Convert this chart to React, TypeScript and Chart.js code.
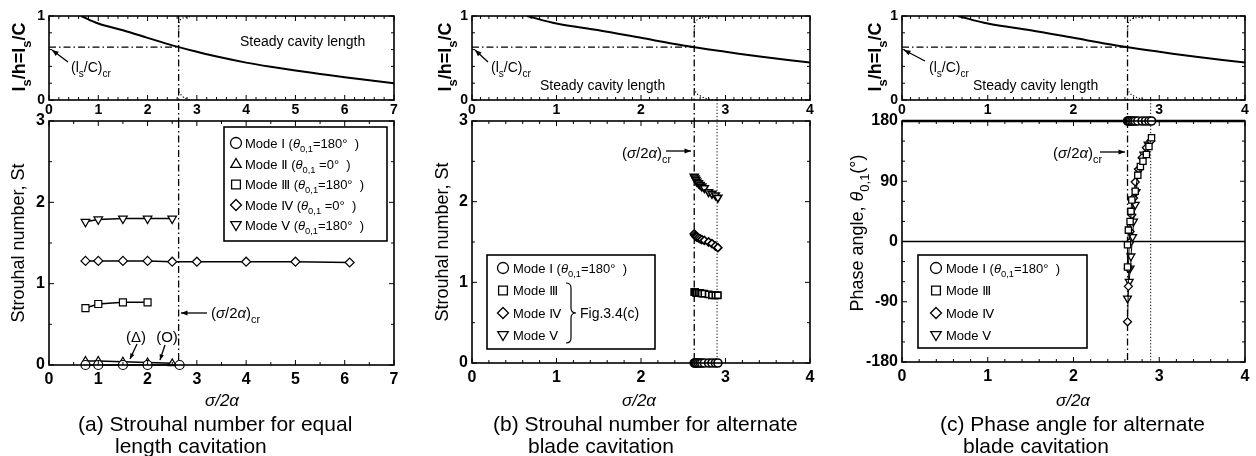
import React, { useEffect, useRef } from "react";
import { Chart, registerables } from "chart.js";

Chart.register(...registerables);

// ---------------- data ----------------
const CRIT_SIGMA = 2.63; // (sigma/2alpha)cr
const CRIT_LS = 0.63; // (ls/C)cr
const ALT_LIMIT = 2.9; // end of alternate blade cavitation region

// steady cavity length (top plots)
const steadySigma = [0.65, 1, 1.5, 2, 2.5, 3, 3.5, 4, 4.5, 5, 5.5, 6, 6.5, 7];
const steadyLs = [1.0, 0.91, 0.83, 0.74, 0.65, 0.575, 0.505, 0.445, 0.395, 0.35, 0.31, 0.27, 0.235, 0.2];
const upperSigma = [2.63, 2.635, 2.65, 2.68, 2.74, 2.82, 2.9];
const upperLs = [0.8, 0.9, 0.94, 0.965, 0.98, 0.99, 0.995];
const lowerSigma = [2.63, 2.65, 2.7, 2.76, 2.83, 2.9];
const lowerLs = [0.14, 0.09, 0.05, 0.02, 0.005, 0];

// (a) equal length cavitation
const aSigmaI = [0.74, 1.0, 1.5, 2.0, 2.65];
const aStI = [0, 0, 0, 0, 0];
const aSigmaII = [0.74, 1.0, 1.5, 2.0, 2.5];
const aStII = [0.05, 0.05, 0.04, 0.03, 0.02];
const aSigmaIII = [0.74, 1.0, 1.5, 2.0];
const aStIII = [0.7, 0.75, 0.77, 0.77];
const aSigmaIV = [0.74, 1.0, 1.5, 2.0, 2.5, 3.0, 4.0, 5.0, 6.1];
const aStIV = [1.28, 1.28, 1.28, 1.28, 1.27, 1.27, 1.27, 1.27, 1.26];
const aSigmaV = [0.74, 1.0, 1.5, 2.0, 2.5];
const aStV = [1.76, 1.79, 1.8, 1.8, 1.8];

// (b) alternate blade cavitation, Strouhal number
const bSigma = [2.63, 2.64, 2.65, 2.66, 2.68, 2.7, 2.72, 2.75, 2.8, 2.84, 2.88, 2.91];
const bStI = [0, 0, 0, 0, 0, 0, 0, 0, 0, 0, 0, 0];
const bStIII = [0.88, 0.88, 0.87, 0.87, 0.87, 0.87, 0.86, 0.86, 0.85, 0.84, 0.84, 0.84];
const bStIV = [1.6, 1.58, 1.57, 1.56, 1.55, 1.54, 1.53, 1.52, 1.5, 1.48, 1.45, 1.43];
const bStV = [2.31, 2.29, 2.27, 2.25, 2.23, 2.21, 2.19, 2.17, 2.12, 2.1, 2.08, 2.05];

// (c) alternate blade cavitation, phase angle
const cSigmaI = [2.63, 2.64, 2.65, 2.66, 2.68, 2.7, 2.72, 2.75, 2.8, 2.84, 2.88, 2.91];
const cPhaseI = [180, 180, 180, 180, 180, 180, 180, 180, 180, 180, 180, 180];
const cSigmaIII = [2.63, 2.63, 2.64, 2.66, 2.67, 2.68, 2.72, 2.75, 2.78, 2.81, 2.85, 2.88, 2.91];
const cPhaseIII = [-38, -5, 17, 30, 45, 62, 75, 99, 112, 120, 130, 142, 155];
const cSigmaIV = [2.63, 2.64, 2.64, 2.65, 2.66, 2.68, 2.7, 2.72, 2.76, 2.8, 2.85, 2.9];
const cPhaseIV = [-120, -67, -40, -2, 15, 40, 65, 89, 108, 125, 140, 150];
const cSigmaV = [2.63, 2.65, 2.66, 2.67, 2.69, 2.7, 2.72, 2.73, 2.76, 2.82, 2.87];
const cPhaseV = [-85, -60, -40, -22, 7, 30, 55, 74, 105, 130, 145];

// ticks
const xTicksA = [0, 1, 2, 3, 4, 5, 6, 7];
const xTicksBC = [0, 1, 2, 3, 4];
const lsTicks = [0, 1];
const stTicks = [0, 1, 2, 3];
const phaseTicks = [-180, -90, 0, 90, 180];

// texts
const captionA = ["(a) Strouhal number for equal", "length cavitation"];
const captionB = ["(b) Strouhal number for alternate", "blade cavitation"];
const captionC = ["(c) Phase angle for alternate", "blade cavitation"];
const modeNames = ["Mode Ⅰ", "Mode Ⅱ", "Mode Ⅲ", "Mode Ⅳ", "Mode Ⅴ"];
const modeAngles = ["=180°", " =0°", "=180°", " =0°", "=180°"];

// ---------------- helpers ----------------
const W = 1256;
const H = 456;
const AX_W = 40;
const AX_H = 30;
const FAMILY = '"Liberation Sans", Arial, "DejaVu Sans", "Noto Sans CJK JP", sans-serif';
const DASHDOT = [7, 3, 1.5, 3];
const DOTTED = [1.2, 2];

function font(size: number, italic = false, bold = false, fam = FAMILY) {
  return `${italic ? "italic " : ""}${bold ? "bold " : ""}${size}px ${fam}`;
}

type Run = { t: string; s?: "sub" | "sup"; i?: boolean; f?: string };

function drawRuns(
  ctx: CanvasRenderingContext2D,
  runs: Run[],
  x: number,
  y: number,
  size: number,
  align: "left" | "center" | "right" = "left",
  rotate = false,
  bold = false
) {
  ctx.save();
  ctx.translate(x, y);
  if (rotate) ctx.rotate(-Math.PI / 2);
  ctx.textBaseline = "alphabetic";
  ctx.textAlign = "left";
  ctx.fillStyle = "#000";
  let total = 0;
  for (const r of runs) {
    ctx.font = font(r.s ? size * 0.72 : size, r.i, bold, r.f || FAMILY);
    total += ctx.measureText(r.t).width;
  }
  let cx = align === "center" ? -total / 2 : align === "right" ? -total : 0;
  for (const r of runs) {
    const sz = r.s ? size * 0.72 : size;
    ctx.font = font(sz, r.i, bold, r.f || FAMILY);
    const dy = r.s === "sub" ? size * 0.32 : r.s === "sup" ? -size * 0.4 : 0;
    ctx.fillText(r.t, cx, dy + size * 0.36);
    cx += ctx.measureText(r.t).width;
  }
  ctx.restore();
}

function seg(ctx: CanvasRenderingContext2D, x1: number, y1: number, x2: number, y2: number, w: number, dash: number[] = []) {
  ctx.save();
  ctx.strokeStyle = "#000";
  ctx.lineWidth = w;
  ctx.setLineDash(dash);
  ctx.beginPath();
  ctx.moveTo(x1, y1);
  ctx.lineTo(x2, y2);
  ctx.stroke();
  ctx.restore();
}

function arrow(ctx: CanvasRenderingContext2D, x1: number, y1: number, x2: number, y2: number, head = 6) {
  seg(ctx, x1, y1, x2, y2, 1.3);
  const a = Math.atan2(y2 - y1, x2 - x1);
  ctx.save();
  ctx.fillStyle = "#000";
  ctx.beginPath();
  ctx.moveTo(x2, y2);
  ctx.lineTo(x2 - head * Math.cos(a - 0.38), y2 - head * Math.sin(a - 0.38));
  ctx.lineTo(x2 - head * Math.cos(a + 0.38), y2 - head * Math.sin(a + 0.38));
  ctx.closePath();
  ctx.fill();
  ctx.restore();
}

type Kind = "circle" | "triUp" | "triDown" | "square" | "diamond";

function marker(ctx: CanvasRenderingContext2D, kind: Kind, x: number, y: number, r: number) {
  ctx.save();
  ctx.lineWidth = 1.3;
  ctx.strokeStyle = "#000";
  ctx.fillStyle = "#fff";
  ctx.setLineDash([]);
  ctx.beginPath();
  if (kind === "circle") ctx.arc(x, y, r, 0, Math.PI * 2);
  else if (kind === "square") ctx.rect(x - r * 0.8, y - r * 0.8, r * 1.6, r * 1.6);
  else if (kind === "diamond") {
    ctx.moveTo(x, y - r);
    ctx.lineTo(x + r, y);
    ctx.lineTo(x, y + r);
    ctx.lineTo(x - r, y);
    ctx.closePath();
  } else if (kind === "triUp") {
    ctx.moveTo(x, y - r);
    ctx.lineTo(x + r * 0.95, y + r * 0.6);
    ctx.lineTo(x - r * 0.95, y + r * 0.6);
    ctx.closePath();
  } else {
    ctx.moveTo(x, y + r);
    ctx.lineTo(x + r * 0.95, y - r * 0.6);
    ctx.lineTo(x - r * 0.95, y - r * 0.6);
    ctx.closePath();
  }
  ctx.fill();
  ctx.stroke();
  ctx.restore();
}

function modeRuns(idx: number, withAngle: boolean): Run[] {
  if (!withAngle) return [{ t: modeNames[idx] }];
  return [{ t: modeNames[idx] + " (" }, { t: "θ", i: true }, { t: "0,1", s: "sub" }, { t: modeAngles[idx] }, { t: "  )" }];
}

function legendBox(ctx: CanvasRenderingContext2D, x1: number, y1: number, x2: number, y2: number) {
  ctx.save();
  ctx.fillStyle = "#fff";
  ctx.fillRect(x1, y1, x2 - x1, y2 - y1);
  ctx.strokeStyle = "#000";
  ctx.lineWidth = 1.6;
  ctx.setLineDash([]);
  ctx.strokeRect(x1, y1, x2 - x1, y2 - y1);
  ctx.restore();
}

const pts = (xs: number[], ys: number[]) => xs.map((x, i) => ({ x, y: ys[i] }));

function markerSet(xs: number[], ys: number[], kind: Kind, r: number, line: boolean, lw: number, bw = 1.2) {
  const style = kind === "circle" ? "circle" : kind === "square" ? "rect" : kind === "diamond" ? "rectRot" : "triangle";
  return {
    data: pts(xs, ys),
    pointStyle: style,
    pointRotation: kind === "triDown" ? 180 : 0,
    pointRadius: kind === "square" ? r * 1.1 : r,
    pointBackgroundColor: "#fff",
    pointBorderColor: "#000",
    pointBorderWidth: bw,
    showLine: line,
    borderColor: "#000",
    borderWidth: lw,
    clip: false,
  };
}

function curveSet(xs: number[], ys: number[], lw: number, dash: number[] = [], smooth = true) {
  return {
    data: pts(xs, ys),
    showLine: true,
    pointRadius: 0,
    borderColor: "#000",
    borderWidth: lw,
    borderDash: dash,
    cubicInterpolationMode: smooth ? "monotone" : "default",
  };
}

type Panel = {
  box: { L: number; R: number; T: number; B: number };
  x: [number, number];
  xTicks: number[];
  xMinor: number;
  y: [number, number];
  yTicks: number[];
  yMinor: number;
  yMajor: number;
  tickSize: number;
  xPad: number;
  datasets: any[];
  under?: (c: any) => void;
  over?: (c: any) => void;
};

function frameAndTicks(c: any, p: Panel) {
  const ctx: CanvasRenderingContext2D = c.ctx;
  const a = c.chartArea;
  const xs = c.scales.x;
  const ys = c.scales.y;
  ctx.save();
  const nx = Math.round((p.x[1] - p.x[0]) / p.xMinor);
  for (let k = 0; k <= nx; k++) {
    const v = p.x[0] + k * p.xMinor;
    const major = Math.abs(v - Math.round(v)) < 1e-6;
    const px = xs.getPixelForValue(v);
    seg(ctx, px, a.bottom, px, a.bottom - (major ? 5 : 3), 1);
    seg(ctx, px, a.top, px, a.top + (major ? 5 : 3), 1);
  }
  const ny = Math.round((p.y[1] - p.y[0]) / p.yMinor);
  for (let k = 0; k <= ny; k++) {
    const v = p.y[0] + k * p.yMinor;
    const major = Math.abs(v / p.yMajor - Math.round(v / p.yMajor)) < 1e-6;
    const py = ys.getPixelForValue(v);
    seg(ctx, a.left, py, a.left + (major ? 5 : 3), py, 1);
    seg(ctx, a.right, py, a.right - (major ? 5 : 3), py, 1);
  }
  ctx.strokeStyle = "#000";
  ctx.lineWidth = 1.6;
  ctx.setLineDash([]);
  ctx.strokeRect(a.left, a.top, a.right - a.left, a.bottom - a.top);
  ctx.restore();
}

function buildConfig(p: Panel) {
  const { L, R, T, B } = p.box;
  return {
    type: "scatter",
    data: { datasets: p.datasets },
    options: {
      animation: false,
      responsive: false,
      events: [],
      layout: { padding: { left: L - AX_W, right: W - R, top: T, bottom: H - B - AX_H } },
      plugins: { legend: { display: false }, tooltip: { enabled: false } },
      scales: {
        x: {
          type: "linear",
          position: "bottom",
          min: p.x[0],
          max: p.x[1],
          afterBuildTicks: (s: any) => {
            s.ticks = p.xTicks.map((v) => ({ value: v }));
          },
          afterFit: (s: any) => {
            s.height = AX_H;
          },
          grid: { display: false, drawTicks: false },
          border: { display: false },
          ticks: {
            color: "#000",
            font: { family: FAMILY, size: p.tickSize, weight: "bold" },
            padding: p.xPad,
            maxRotation: 0,
            minRotation: 0,
            autoSkip: false,
            callback: (v: any) => String(v),
          },
        },
        y: {
          type: "linear",
          position: "left",
          min: p.y[0],
          max: p.y[1],
          afterBuildTicks: (s: any) => {
            s.ticks = p.yTicks.map((v) => ({ value: v }));
          },
          afterFit: (s: any) => {
            s.width = AX_W;
          },
          grid: { display: false, drawTicks: false },
          border: { display: false },
          ticks: {
            color: "#000",
            font: { family: FAMILY, size: p.tickSize, weight: "bold" },
            padding: 4,
            autoSkip: false,
            callback: (v: any) => String(v),
          },
        },
      },
    },
    plugins: [
      {
        id: "deco",
        beforeDatasetsDraw: (c: any) => {
          if (p.under) p.under(c);
        },
        afterDraw: (c: any) => {
          frameAndTicks(c, p);
          if (p.over) p.over(c);
        },
      },
    ],
  };
}

const BOTTOM_TOP = 121;

function topPanel(L: number, R: number, xMax: number, xTicks: number[], xMinor: number, labelX: number, steadyAt: [number, number], lscr: { tx: number; ax: number; ay: number; hx: number; hy: number }): Panel {
  return {
    box: { L, R, T: 16, B: 100 },
    x: [0, xMax],
    xTicks,
    xMinor,
    y: [0, 1],
    yTicks: lsTicks,
    yMinor: 0.2,
    yMajor: 1,
    tickSize: 14,
    xPad: 2,
    datasets: [
      curveSet(steadySigma, steadyLs, 2),
      curveSet(upperSigma, upperLs, 1.2, DOTTED),
      curveSet(lowerSigma, lowerLs, 1.2, DOTTED),
    ],
    under: (c: any) => {
      const ctx = c.ctx;
      const xs = c.scales.x;
      const ys = c.scales.y;
      const px = xs.getPixelForValue(CRIT_SIGMA);
      const py = ys.getPixelForValue(CRIT_LS);
      seg(ctx, xs.getPixelForValue(0), py, px, py, 1.3, DASHDOT);
      seg(ctx, px, c.chartArea.top, px, BOTTOM_TOP, 1.3, DASHDOT);
    },
    over: (c: any) => {
      const ctx = c.ctx;
      drawRuns(ctx, [{ t: "Steady cavity length" }], steadyAt[0], steadyAt[1], 14);
      drawRuns(ctx, [{ t: "(l" }, { t: "s", s: "sub" }, { t: "/C)" }, { t: "cr", s: "sub" }], lscr.tx, 67, 14);
      arrow(ctx, lscr.ax, lscr.ay, lscr.hx, lscr.hy, 7);
      drawRuns(ctx, [{ t: "l" }, { t: "s", s: "sub" }, { t: "/h=l" }, { t: "s", s: "sub" }, { t: "/C" }], labelX, 57, 18, "center", true, true);
    },
  };
}

function sigmaCrLabel(ctx: CanvasRenderingContext2D, x: number, y: number) {
  drawRuns(ctx, [{ t: "(" }, { t: "σ", i: true }, { t: "/2" }, { t: "α", i: true }, { t: ")" }, { t: "cr", s: "sub" }], x, y, 15);
}

function xTitle(ctx: CanvasRenderingContext2D, x: number) {
  drawRuns(ctx, [{ t: "σ", i: true }, { t: "/2", i: true }, { t: "α", i: true }], x, 400, 17, "center");
}

function caption(ctx: CanvasRenderingContext2D, lines: string[], x1: number, x2: number) {
  drawRuns(ctx, [{ t: lines[0] }], x1, 423, 21);
  drawRuns(ctx, [{ t: lines[1] }], x2, 445, 21);
}

// ---------------- panels ----------------
const panelATop = topPanel(49, 394, 7, xTicksA, 0.2, 19, [240, 41], { tx: 71, ax: 68, ay: 62, hx: 52, hy: 50 });

const panelABottom: Panel = {
  box: { L: 49, R: 394, T: BOTTOM_TOP, B: 365 },
  x: [0, 7],
  xTicks: xTicksA,
  xMinor: 0.5,
  y: [0, 3],
  yTicks: stTicks,
  yMinor: 0.5,
  yMajor: 1,
  tickSize: 16,
  xPad: 5,
  datasets: [
    markerSet(aSigmaI, aStI, "circle", 4.5, true, 1.5),
    markerSet(aSigmaII, aStII, "triUp", 4.5, true, 1.5),
    markerSet(aSigmaIII, aStIII, "square", 4.5, true, 1.5),
    markerSet(aSigmaIV, aStIV, "diamond", 4.5, true, 1.5),
    markerSet(aSigmaV, aStV, "triDown", 5, true, 1.5),
  ],
  under: (c: any) => {
    const px = c.scales.x.getPixelForValue(CRIT_SIGMA);
    seg(c.ctx, px, c.chartArea.top, px, c.chartArea.bottom, 1.3, DASHDOT);
  },
  over: (c: any) => {
    const ctx = c.ctx;
    legendBox(ctx, 224, 127, 387, 241);
    const kinds: Kind[] = ["circle", "triUp", "square", "diamond", "triDown"];
    const rows = [143, 164, 184.5, 205, 225];
    rows.forEach((ry, i) => {
      marker(ctx, kinds[i], 236, ry, 5.5);
      drawRuns(ctx, modeRuns(i, true), 245, ry, 13);
    });
    drawRuns(ctx, [{ t: "(Δ)" }], 136, 337, 15, "center");
    arrow(ctx, 137, 344, 130, 359, 6);
    drawRuns(ctx, [{ t: "(O)" }], 167, 337, 15, "center");
    arrow(ctx, 165, 345, 160, 360, 6);
    arrow(ctx, 207, 313, 181, 313, 7);
    sigmaCrLabel(ctx, 211, 313);
    drawRuns(ctx, [{ t: "Strouhal number, St" }], 18, 243, 18, "center", true);
    xTitle(ctx, 222);
    caption(ctx, captionA, 78, 115);
  },
};

const panelBTop = topPanel(472, 810, 4, xTicksBC, 0.1, 445, [540, 85], { tx: 491, ax: 488, ay: 62, hx: 475, hy: 50 });

const panelBBottom: Panel = {
  box: { L: 472, R: 810, T: BOTTOM_TOP, B: 363 },
  x: [0, 4],
  xTicks: xTicksBC,
  xMinor: 0.2,
  y: [0, 3],
  yTicks: stTicks,
  yMinor: 0.5,
  yMajor: 1,
  tickSize: 16,
  xPad: 5,
  datasets: [
    markerSet(bSigma, bStI, "circle", 4, true, 1.5, 1.6),
    markerSet(bSigma, bStIII, "square", 4, true, 1.5, 1.6),
    markerSet(bSigma, bStIV, "diamond", 4, true, 1.5, 1.6),
    markerSet(bSigma, bStV, "triDown", 4.5, true, 1.5, 1.6),
  ],
  under: (c: any) => {
    const xs = c.scales.x;
    const px = xs.getPixelForValue(CRIT_SIGMA);
    seg(c.ctx, px, c.chartArea.top, px, c.chartArea.bottom, 1.3, DASHDOT);
    const pl = xs.getPixelForValue(ALT_LIMIT);
    seg(c.ctx, pl, 100, pl, c.chartArea.bottom, 1, DOTTED);
  },
  over: (c: any) => {
    const ctx = c.ctx;
    legendBox(ctx, 487, 255, 655, 349);
    const kinds: Kind[] = ["circle", "square", "diamond", "triDown"];
    const idx = [0, 2, 3, 4];
    const rows = [268, 290.5, 313, 335];
    rows.forEach((ry, i) => {
      marker(ctx, kinds[i], 503, ry, 5.5);
      drawRuns(ctx, modeRuns(idx[i], i === 0), 513, ry, 13);
    });
    ctx.save();
    ctx.strokeStyle = "#000";
    ctx.lineWidth = 1.2;
    ctx.beginPath();
    ctx.moveTo(566, 283);
    ctx.quadraticCurveTo(571, 283, 571, 288);
    ctx.lineTo(571, 308);
    ctx.quadraticCurveTo(571, 313, 576, 313);
    ctx.quadraticCurveTo(571, 313, 571, 318);
    ctx.lineTo(571, 338);
    ctx.quadraticCurveTo(571, 343, 566, 343);
    ctx.stroke();
    ctx.restore();
    drawRuns(ctx, [{ t: "Fig.3.4(c)" }], 580, 313, 14);
    sigmaCrLabel(ctx, 622, 153);
    arrow(ctx, 666, 151, 691, 151, 7);
    drawRuns(ctx, [{ t: "Strouhal number, St" }], 442, 242, 18, "center", true);
    xTitle(ctx, 639);
    caption(ctx, captionB, 493, 528);
  },
};

const panelCTop = topPanel(902, 1245, 4, xTicksBC, 0.1, 875, [973, 85], { tx: 929, ax: 925, ay: 61, hx: 904, hy: 50 });

const panelCBottom: Panel = {
  box: { L: 902, R: 1245, T: BOTTOM_TOP, B: 362 },
  x: [0, 4],
  xTicks: xTicksBC,
  xMinor: 0.2,
  y: [-180, 180],
  yTicks: phaseTicks,
  yMinor: 30,
  yMajor: 90,
  tickSize: 16,
  xPad: 5,
  datasets: [
    markerSet(cSigmaI, cPhaseI, "circle", 4, true, 2, 1.6),
    markerSet(cSigmaIII, cPhaseIII, "square", 4, true, 1, 1.3),
    markerSet(cSigmaIV, cPhaseIV, "diamond", 4, true, 1, 1.3),
    markerSet(cSigmaV, cPhaseV, "triDown", 4.5, true, 1, 1.3),
  ],
  under: (c: any) => {
    const xs = c.scales.x;
    const ys = c.scales.y;
    const a = c.chartArea;
    const p0 = ys.getPixelForValue(0);
    seg(c.ctx, a.left, p0, a.right, p0, 1.6);
    const ptop = ys.getPixelForValue(180);
    seg(c.ctx, a.left, ptop, a.right, ptop, 2.6);
    const px = xs.getPixelForValue(CRIT_SIGMA);
    seg(c.ctx, px, a.top, px, a.bottom, 1.3, DASHDOT);
    const pl = xs.getPixelForValue(ALT_LIMIT);
    seg(c.ctx, pl, 100, pl, a.bottom, 1, DOTTED);
  },
  over: (c: any) => {
    const ctx = c.ctx;
    legendBox(ctx, 918, 255, 1087, 348);
    const kinds: Kind[] = ["circle", "square", "diamond", "triDown"];
    const idx = [0, 2, 3, 4];
    const rows = [268, 290.5, 313, 335];
    rows.forEach((ry, i) => {
      marker(ctx, kinds[i], 936, ry, 5.5);
      drawRuns(ctx, modeRuns(idx[i], i === 0), 946, ry, 13);
    });
    sigmaCrLabel(ctx, 1053, 153);
    arrow(ctx, 1100, 152, 1125, 152, 7);
    drawRuns(
      ctx,
      [{ t: "Phase angle, " }, { t: "θ", i: true }, { t: "0,1", s: "sub" }, { t: "(°)" }],
      857,
      233,
      18,
      "center",
      true
    );
    xTitle(ctx, 1073);
    caption(ctx, captionC, 940, 963);
  },
};

const panels: Panel[] = [panelATop, panelABottom, panelBTop, panelBBottom, panelCTop, panelCBottom];

function PanelCanvas({ panel }: { panel: Panel }) {
  const ref = useRef<HTMLCanvasElement>(null);
  useEffect(() => {
    const chart = new Chart(ref.current as HTMLCanvasElement, buildConfig(panel) as any);
    return () => chart.destroy();
  }, [panel]);
  return (
    <canvas
      ref={ref}
      width={W}
      height={H}
      style={{ position: "absolute", left: 0, top: 0, width: W, height: H }}
    />
  );
}

export default function App() {
  return (
    <div style={{ position: "fixed", left: 0, top: 0, width: W, height: H, background: "#fff", overflow: "hidden" }}>
      {panels.map((p, i) => (
        <PanelCanvas key={i} panel={p} />
      ))}
    </div>
  );
}
